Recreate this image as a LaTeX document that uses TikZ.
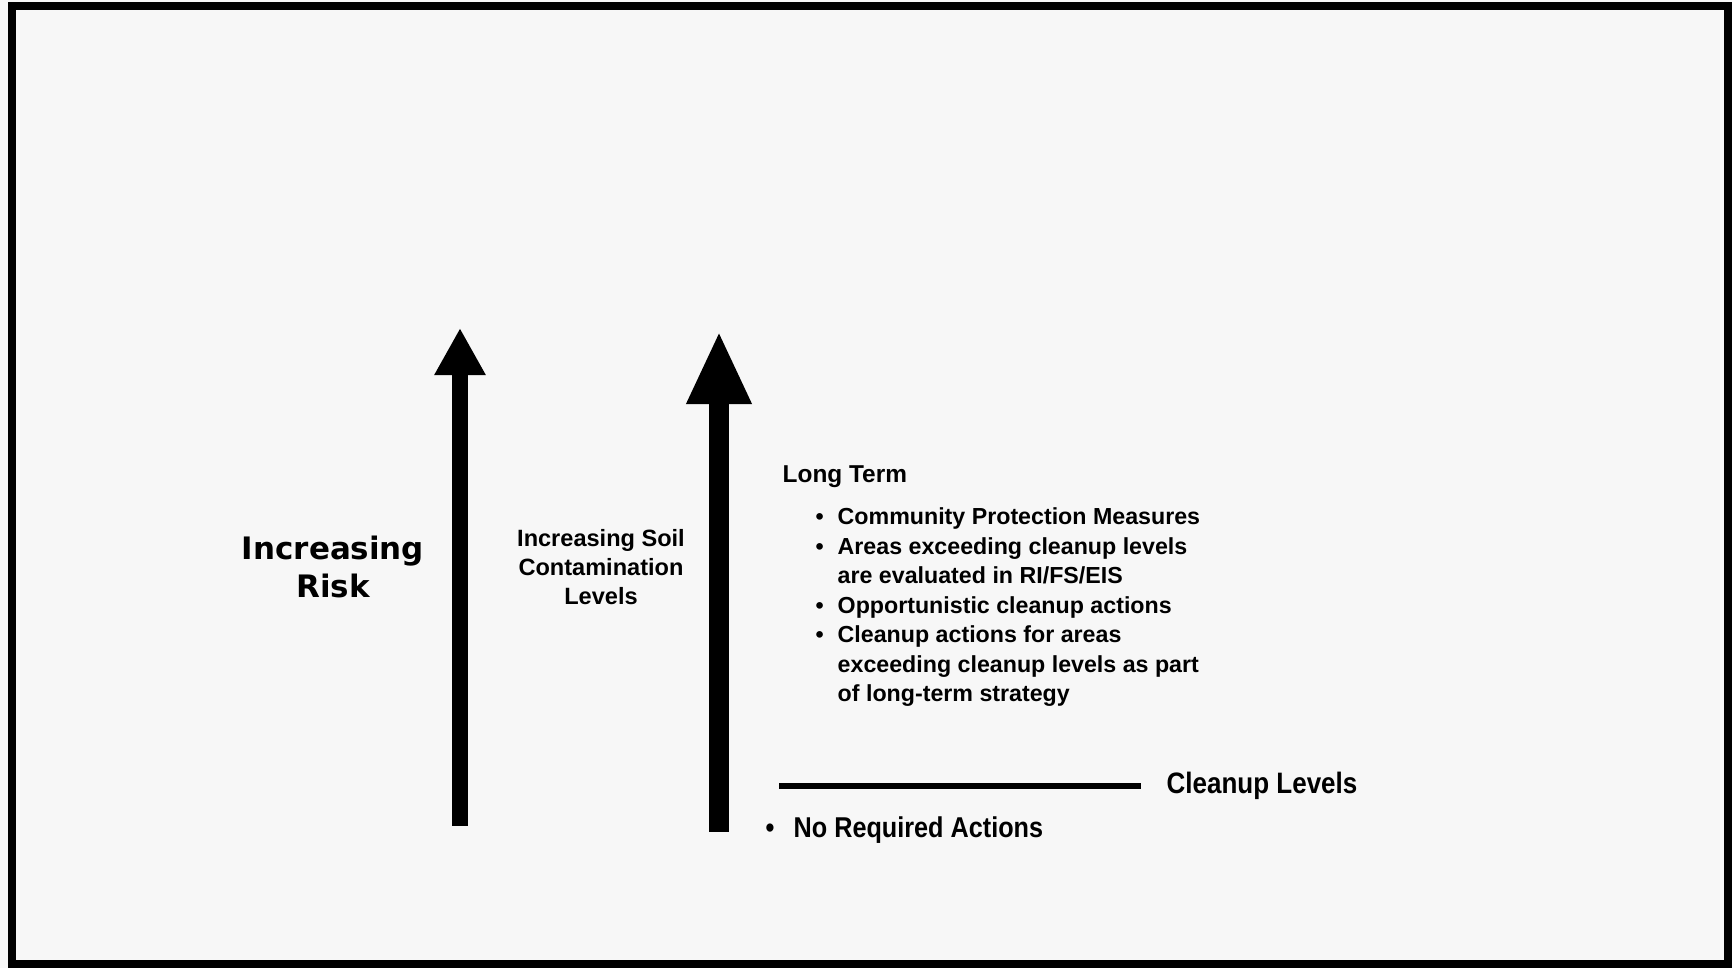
\documentclass[tikz,border=0pt]{standalone}
\usepackage{fontspec}
\setmainfont{Liberation Sans}
\newfontfamily\heavyfont{DejaVu Sans}
\newfontfamily\narrowfont{Liberation Sans}[FakeStretch=0.88]
\usetikzlibrary{positioning,arrows.meta,calc}
\newcommand{\itm}{\makebox[0.22cm][l]{\textbullet}}
\newcommand{\fsz}[2]{\fontsize{#1}{#2}\selectfont}

\begin{document}
\begin{tikzpicture}[x=0.01cm,y=-0.01cm,txt/.style={inner sep=0pt}]
\useasboundingbox (0,0) rectangle (1732,968);
% paper and frame
\fill[black!3] (0,0) rectangle (1732,968);
\draw[line width=0.08cm] (12,6.5) rectangle (1728,964);
% risk arrow (thin) and soil arrow (thick)
\coordinate (riskfoot) at (460,826);
\coordinate (risktip) at (460,328);
\draw[line width=0.15cm,-{Triangle[length=0.47cm,width=0.48cm]}] (riskfoot) -- (risktip);
\coordinate (soilfoot) at (719,832);
\coordinate (soiltip) at (719,331);
\draw[line width=0.195cm,-{Triangle[length=0.73cm,width=0.60cm]}] (soilfoot) -- (soiltip);
% axis labels
\node[txt,align=center,font=\heavyfont\bfseries\fsz{8.8pt}{10.95pt}] (risk) at (333,567) {Increasing\\Risk};
\node[txt,align=center,font=\bfseries\fsz{6.7pt}{8.33pt}] (soil) at (601,567) {Increasing Soil\\Contamination\\Levels};
% long term actions above cleanup levels
\node[txt,anchor=base west,font=\bfseries\fsz{6.94pt}{8pt}] (longterm) at (782,483) {Long Term};
\node[txt,anchor=north west,align=left,font=\bfseries\fsz{6.6pt}{8.39pt}] (measures) at (815,507) {\itm Community Protection Measures\\\itm Areas exceeding cleanup levels\\\hspace*{0.22cm}are evaluated in RI/FS/EIS\\\itm Opportunistic cleanup actions\\\itm Cleanup actions for areas\\\hspace*{0.22cm}exceeding cleanup levels as part\\\hspace*{0.22cm}of long-term strategy};
% cleanup level line
\coordinate (lvlstart) at (779,786);
\coordinate (lvlend) at (1141,786);
\draw[line width=0.055cm] (lvlstart) -- (lvlend);
\node[txt,anchor=base west,font=\narrowfont\bfseries\fsz{8.4pt}{9pt}] (levels) at (1166,794) {Cleanup Levels};
\node[txt,anchor=base west,font=\narrowfont\bfseries\fsz{8.15pt}{9pt}] (norequired) at (765,838) {\makebox[0.28cm][l]{\textbullet}No Required Actions};
\end{tikzpicture}
\end{document}
